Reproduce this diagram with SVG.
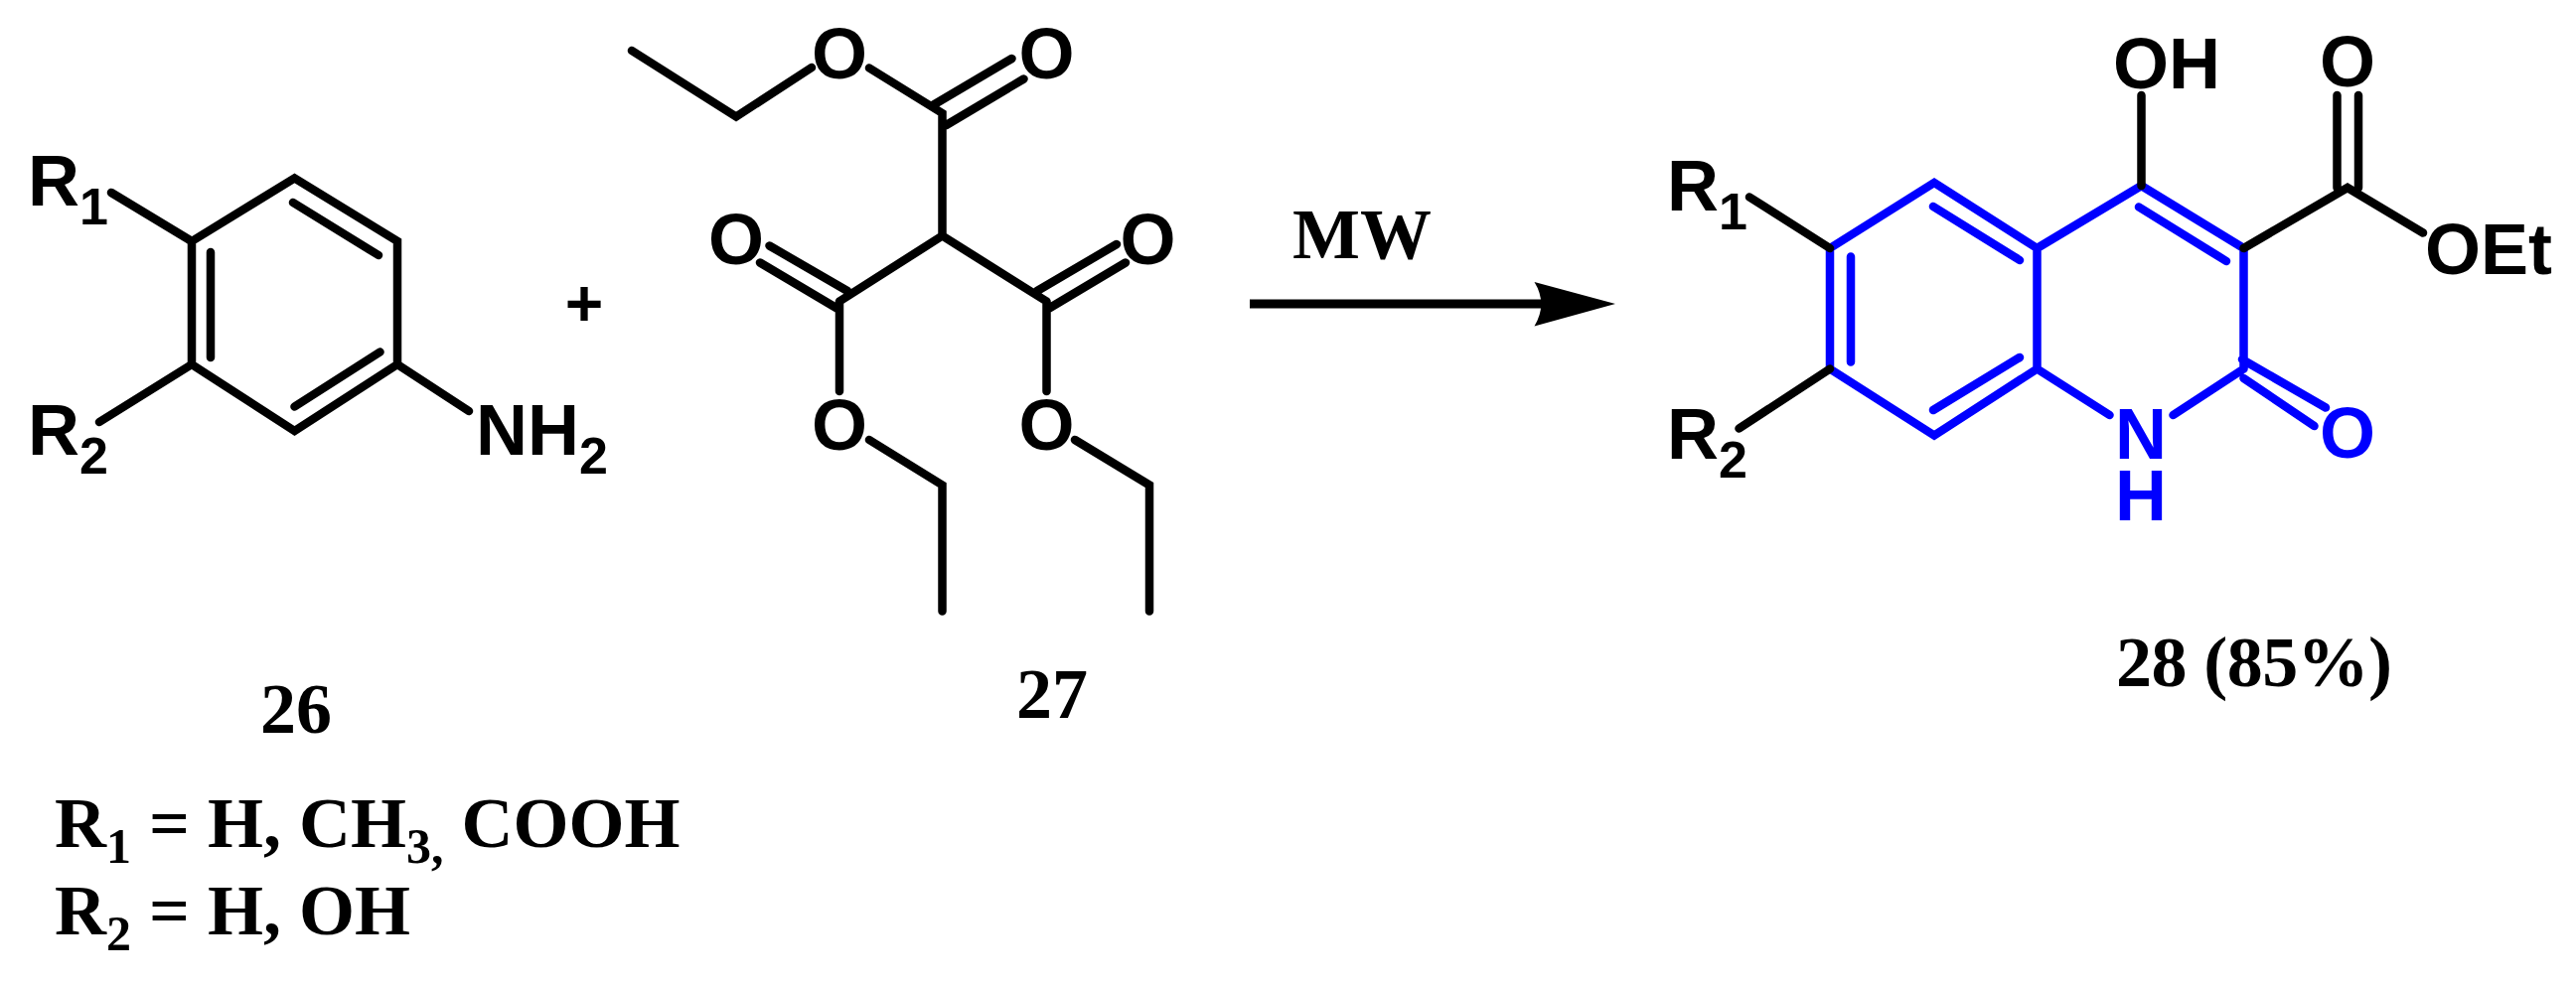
<svg xmlns="http://www.w3.org/2000/svg" width="2593" height="992" viewBox="0 0 2593 992">
<style>
.b{fill:none;stroke:#000;stroke-width:8.500;stroke-linecap:round;stroke-linejoin:miter}
.u{fill:none;stroke:#00f;stroke-width:8.500;stroke-linecap:round;stroke-linejoin:miter}
.a{font-family:"Liberation Sans",Arial,sans-serif;font-size:72px;font-weight:bold;fill:#000}
.au{fill:#00f}
.s{font-size:52px}
.t{font-family:"Liberation Serif","Times New Roman",serif;font-size:72px;font-weight:bold;fill:#000}
.ts{font-size:50px}
</style>
<rect width="2593" height="992" fill="#fff"/>
<g id="compound-26">
<path class="b" d="M193 243L296.500 179.500L400 243V367L296.500 434L193 367Z"/>
<path class="b" d="M295 204L381 257M212 254V360M296.500 409.500L382.500 354.500M112 194L193 243M100 425L193 367M400 367L472 414"/>
<text class="a" x="28" y="207">R<tspan class="s" dy="19">1</tspan></text>
<text class="a" x="28" y="458">R<tspan class="s" dy="19">2</tspan></text>
<text class="a" x="479" y="458">NH<tspan class="s" dy="19">2</tspan></text>
</g>
<text id="plus" class="a" x="588" y="328" text-anchor="middle" style="font-size:66px">+</text>
<g id="compound-27">
<path class="b" d="M636 51L741 117.500L817 68M875 68.500L948.500 114V237.500M845 303.500L948.500 237.500L1053.500 303.500M939 106L1018.500 59M952.500 126L1030.500 79.500M774.500 247.500L853 293M765 264.500L845 312M1124 246L1044 293M1133 264.500L1053.500 312M845 303.500V394M1053.500 303.500V394M875 443L948.500 488.500V615.500M1082 443L1157 488.500V615.500"/>
<text class="a" x="845" y="79" text-anchor="middle">O</text>
<text class="a" x="1053.500" y="79" text-anchor="middle">O</text>
<text class="a" x="741" y="266" text-anchor="middle">O</text>
<text class="a" x="1155.500" y="266" text-anchor="middle">O</text>
<text class="a" x="845" y="453" text-anchor="middle">O</text>
<text class="a" x="1053.500" y="453" text-anchor="middle">O</text>
</g>
<g id="connectors">
<path class="arrow" d="M1258 301.500H1552V310.500H1258Z" fill="#000"/>
<path d="M1626 306L1544.500 284Q1558 306 1544.500 328.500Z" fill="#000"/>
</g>
<text id="mw" class="t" x="1301" y="260">MW</text>
<g id="compound-28">
<path class="u" d="M1842 250L1947 184L2050.500 250V371.500L1947 438.500L1842 371.500ZM2050.500 250L2155.500 187L2258.500 250V371.500M2050.500 371.500L2123.500 418M2258.500 371.500L2187.500 418M1946 208L2033 262M1863 258.500V364.500M1946 413L2033 360M2153 208.500L2241 263M2257 362L2341 410.500M2258.500 381L2329.500 429"/>
<path class="b" d="M1761 198.500L1842 250M1750.500 431.500L1842 371.500M2155.500 96V187M2258.500 250L2363 189L2439 234.500M2352.500 96V189M2374 96V189"/>
<text class="a" x="1678" y="212">R<tspan class="s" dy="19">1</tspan></text>
<text class="a" x="1678" y="462">R<tspan class="s" dy="19">2</tspan></text>
<text class="a" x="2127" y="89">OH</text>
<text class="a" x="2363" y="87" text-anchor="middle">O</text>
<text class="a" x="2441" y="276">OEt</text>
<text class="a au" x="2155" y="462" text-anchor="middle">N<tspan x="2155" dy="62">H</tspan></text>
<text class="a au" x="2363" y="461" text-anchor="middle">O</text>
</g>
<text id="label-26" class="t" x="262" y="738">26</text>
<text id="label-27" class="t" x="1023" y="723">27</text>
<text id="label-28" class="t" x="2130" y="691" textLength="278">28 (85%)</text>
<text id="r1-def" class="t" x="55" y="853">R<tspan class="ts" dy="16">1</tspan><tspan dy="-16"> = H, CH</tspan><tspan class="ts" dy="16">3,</tspan><tspan dy="-16"> COOH</tspan></text>
<text id="r2-def" class="t" x="55" y="941">R<tspan class="ts" dy="16">2</tspan><tspan dy="-16"> = H, OH</tspan></text>
</svg>
